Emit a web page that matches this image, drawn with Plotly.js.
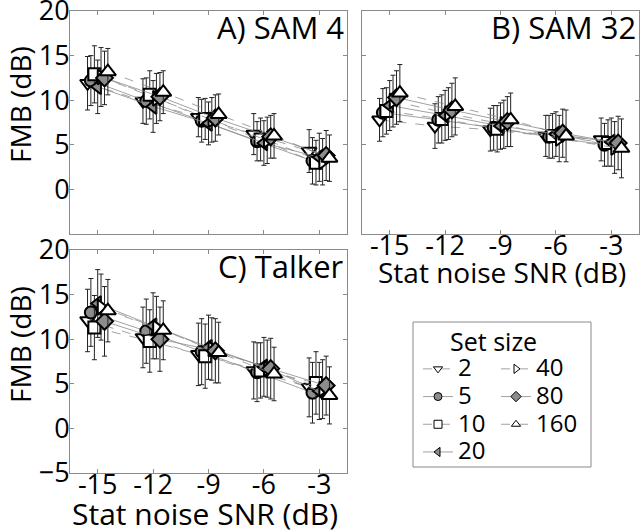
<!DOCTYPE html>
<html>
<head>
<meta charset="utf-8">
<script src="https://cdn.plot.ly/plotly-3.0.1.min.js"></script>
<style>
  body { margin: 0; background: #fff; }
  #vis { width: 640px; height: 532px; }
</style>
</head>
<body>
<div id="vis"></div>
<script>
const snr = [-15, -12, -9, -6, -3]
const snrText = ['-15', '-12', '-9', '-6', '-3']
const setSizes = ['2', '5', '10', '20', '40', '80', '160']

// FMB (dB) per set size, one row per set size, columns follow snr
const samA = [
  [11.9, 9.9, 8.1, 6.2, 4.3],
  [12.2, 9.9, 7.7, 5.4, 3.2],
  [12.9, 10.6, 7.9, 5.6, 3.0],
  [11.5, 9.3, 7.4, 5.2, 3.6],
  [12.6, 10.2, 7.8, 5.5, 3.1],
  [12.5, 10.4, 8.0, 5.9, 3.8],
  [13.2, 10.9, 8.4, 6.0, 3.5]
]
const samAErr = [
  [3.0, 2.5, 2.2, 2.3, 2.4],
  [2.8, 2.6, 2.4, 2.2, 2.6],
  [3.2, 2.7, 2.3, 2.4, 2.5],
  [3.0, 2.9, 2.4, 2.5, 2.7],
  [3.3, 2.8, 2.5, 2.6, 2.6],
  [3.0, 2.7, 2.6, 2.4, 2.8],
  [2.6, 2.4, 2.3, 2.5, 2.6]
]
const samB = [
  [7.8, 7.1, 6.7, 6.0, 5.6],
  [8.6, 7.8, 6.9, 5.9, 5.0],
  [8.8, 7.9, 6.8, 6.0, 5.2],
  [9.4, 8.3, 7.1, 6.2, 5.3],
  [9.9, 8.5, 7.3, 5.7, 4.7],
  [10.3, 8.9, 7.6, 6.3, 5.2],
  [10.8, 9.3, 7.8, 6.0, 4.6]
]
const samBErr = [
  [2.4, 2.5, 2.4, 2.3, 2.4],
  [2.7, 2.6, 2.5, 2.4, 2.4],
  [2.6, 2.7, 2.6, 2.5, 2.6],
  [2.8, 2.8, 2.6, 2.5, 2.7],
  [2.9, 2.9, 2.7, 2.6, 2.9],
  [3.0, 3.0, 2.8, 2.7, 3.0],
  [3.2, 3.2, 3.0, 2.9, 3.3]
]
const talkerC = [
  [12.1, 10.2, 8.3, 6.5, 4.6],
  [13.0, 10.9, 8.6, 6.3, 4.0],
  [11.3, 9.8, 8.1, 6.5, 5.1],
  [14.0, 11.5, 9.1, 6.9, 4.2],
  [13.6, 11.3, 8.9, 6.7, 4.4],
  [12.0, 10.0, 8.7, 6.7, 4.8],
  [13.2, 11.0, 8.5, 6.1, 3.7]
]
const talkerCErr = [
  [3.5, 3.4, 3.5, 3.2, 3.3],
  [3.8, 3.6, 3.7, 3.3, 3.4],
  [3.6, 3.5, 3.6, 3.1, 3.5],
  [3.8, 3.7, 3.6, 3.3, 3.2],
  [3.7, 3.5, 3.5, 3.2, 3.3],
  [3.9, 3.6, 3.6, 3.4, 3.3],
  [3.5, 3.3, 3.4, 3.0, 3.2]
]

// horizontal jitter so the set sizes don't sit on top of each other
const offsets = [-0.55, -0.37, -0.18, 0, 0.18, 0.37, 0.55]
const symbols = ['triangle-down', 'circle', 'square', 'triangle-left', 'triangle-right', 'diamond', 'triangle-up']
const fills = ['#ffffff', '#8c8c8c', '#ffffff', '#8c8c8c', '#ffffff', '#8c8c8c', '#ffffff']
const dashes = ['dash', 'solid', 'dash', 'solid', 'dash', 'solid', 'dash']
const sizes = [13, 12, 12, 13, 13, 13, 14]
// first legend column: 2 5 10 20, second: 40 80 160
const legendCol = ['legend', 'legend', 'legend', 'legend', 'legend2', 'legend2', 'legend2']

const FONT = '"Open Sans", sans-serif'
const data = []

function addPanel(vals, errs, xa, ya) {
  vals.forEach((row, i) => {
    data.push({
      x: snr.map(s => s + offsets[i]),
      y: row,
      xaxis: xa,
      yaxis: ya,
      type: 'scatter',
      mode: 'lines+markers',
      showlegend: false,
      hoverinfo: 'skip',
      line: { color: '#8a8a8a', width: 0.8, dash: dashes[i] },
      marker: { symbol: symbols[i], size: sizes[i], color: fills[i], line: { color: '#000', width: 2 } },
      error_y: { type: 'data', array: errs[i], visible: true, color: '#222', thickness: 1, width: 2.5 }
    })
  })
}

addPanel(samA, samAErr, 'x', 'y')
addPanel(samB, samBErr, 'x2', 'y2')
addPanel(talkerC, talkerCErr, 'x3', 'y3')

// legend-only entries with small markers; the span keeps the text big
// while the legend rows stay as tight as in the original
setSizes.forEach((s, i) => {
  data.push({
    x: [null], y: [null],
    type: 'scatter', mode: 'lines+markers',
    name: '<span style="font-size:24px">' + s + '</span>',
    legend: legendCol[i],
    line: { color: '#8a8a8a', width: 0.8, dash: dashes[i] },
    marker: { symbol: symbols[i], size: 8, color: fills[i], line: { color: '#000', width: 1 } }
  })
})

const axBase = {
  showline: true, linecolor: '#8a8a8a', linewidth: 1, mirror: 'ticks',
  ticks: 'inside', ticklen: 4, tickcolor: '#8a8a8a',
  showgrid: false, zeroline: false, ticklabeloverflow: 'allow',
  tickfont: { family: FONT, size: 27, color: '#000' }
}
const xBase = Object.assign({}, axBase, { range: [-16.5, -1.5], tickvals: snr, ticktext: snrText, ticklabelstandoff: -12 })
const yBase = Object.assign({}, axBase, { range: [-5, 20], ticklabelstandoff: -6 })
const legBase = {
  orientation: 'v', xanchor: 'left', yanchor: 'top',
  bgcolor: 'rgba(0,0,0,0)', borderwidth: 0, itemwidth: 30, tracegroupgap: 0,
  font: { family: FONT, size: 19, color: '#000' }
}

function label(text, x, y, size, angle) {
  return { text: text, xref: 'paper', yref: 'paper', x: x / 640, y: 1 - y / 532,
    xanchor: 'center', yanchor: 'middle', showarrow: false, textangle: angle || 0,
    font: { family: FONT, size: size, color: '#000' } }
}
function panelTitle(text, ax) {
  return { text: text, xref: ax[0] + ' domain', yref: ax[1] + ' domain', x: 0.995, y: 1.03,
    xanchor: 'right', yanchor: 'top', showarrow: false, font: { family: FONT, size: 31, color: '#000' } }
}

const layout = {
  width: 640, height: 532,
  margin: { l: 0, r: 0, t: 0, b: 0 },
  paper_bgcolor: '#fff', plot_bgcolor: '#fff',
  font: { family: FONT, color: '#000' },
  xaxis: Object.assign({}, xBase, { domain: [70 / 640, 347 / 640], anchor: 'y', showticklabels: false }),
  yaxis: Object.assign({}, yBase, { domain: [1 - 234 / 532, 1 - 11 / 532], anchor: 'x', tickvals: [0, 5, 10, 15, 20] }),
  xaxis2: Object.assign({}, xBase, { domain: [362 / 640, 639 / 640], anchor: 'y2' }),
  yaxis2: Object.assign({}, yBase, { domain: [1 - 234 / 532, 1 - 11 / 532], anchor: 'x2', tickvals: [0, 5, 10, 15, 20], showticklabels: false }),
  xaxis3: Object.assign({}, xBase, { domain: [70 / 640, 347 / 640], anchor: 'y3' }),
  yaxis3: Object.assign({}, yBase, { domain: [1 - 473 / 532, 1 - 250 / 532], anchor: 'x3', tickvals: [-5, 0, 5, 10, 15, 20] }),
  annotations: [
    panelTitle('A) SAM 4', ['x', 'y']),
    panelTitle('B) SAM 32', ['x2', 'y2']),
    panelTitle('C) Talker', ['x3', 'y3']),
    label('FMB (dB)', 20, 105, 28, -90),
    label('FMB (dB)', 20, 345, 28, -90),
    label('Stat noise SNR (dB)', 502, 272, 28),
    label('Stat noise SNR (dB)', 205, 513, 30),
    label('Set size', 493, 341, 25)
  ],
  shapes: [
    { type: 'rect', xref: 'paper', yref: 'paper', x0: 413 / 640, x1: 591 / 640, y0: 1 - 467 / 532, y1: 1 - 322 / 532,
      line: { color: '#8a8a8a', width: 1 }, fillcolor: 'rgba(0,0,0,0)' }
  ],
  showlegend: true,
  legend: Object.assign({}, legBase, { x: 418 / 640, y: 1 - 350 / 532 }),
  legend2: Object.assign({}, legBase, { x: 496 / 640, y: 1 - 350 / 532 })
}

Plotly.newPlot('vis', data, layout, { staticPlot: true })
</script>
</body>
</html>
